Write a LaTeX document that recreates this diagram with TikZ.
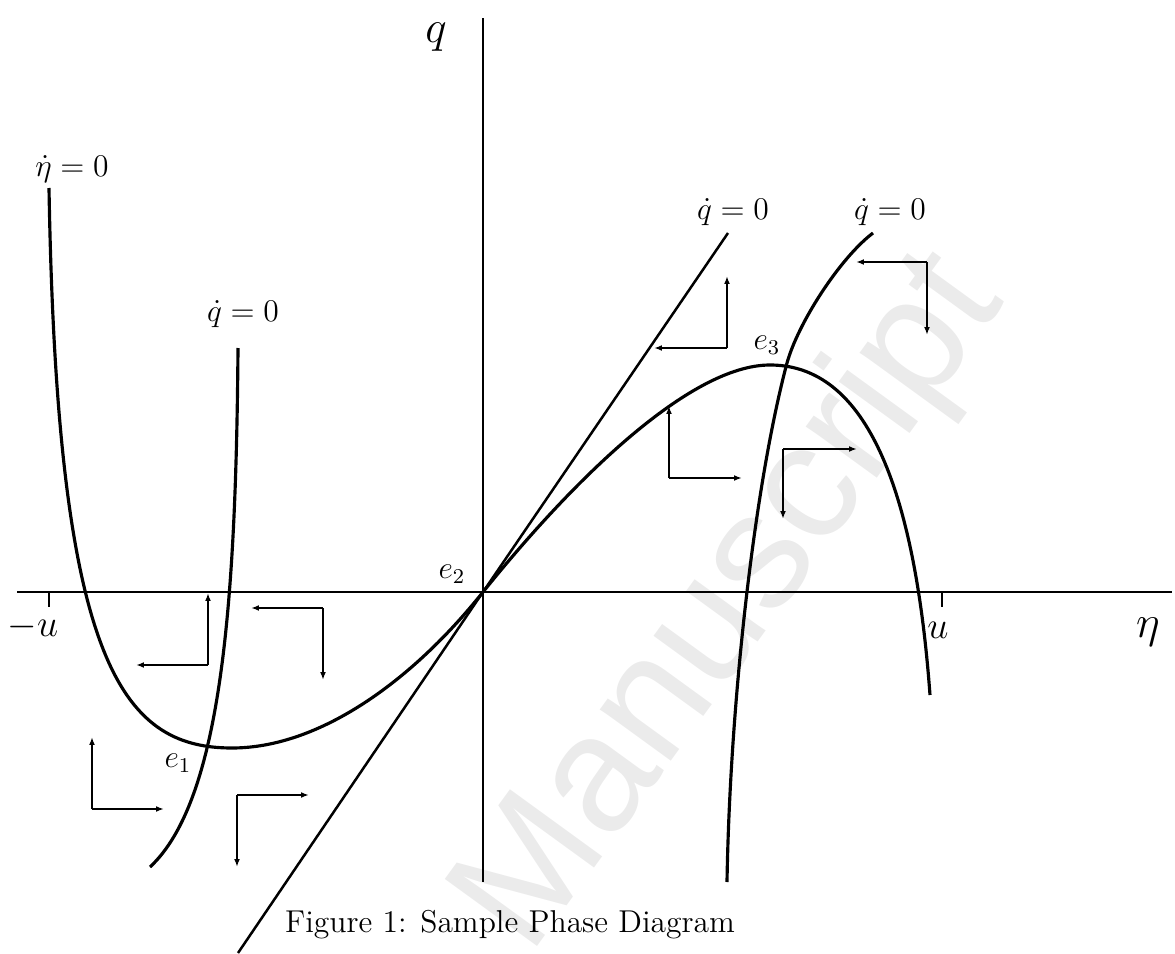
\documentclass[tikz,border=0pt]{standalone}
\usepackage{amsmath,amssymb}
\usepackage{fontspec}
\newfontfamily\wmfont{Liberation Sans}
\usetikzlibrary{arrows.meta}

\begin{document}
\begin{tikzpicture}[x=0.38pt,y=-0.38pt,every node/.style={font=\large},
  axis/.style={line width=1pt},
  nullcline/.style={line width=1.2pt,line join=round},
  flow/.style={line width=0.6pt,-{Latex[length=3pt,width=2.2pt]}}]
\useasboundingbox (0,0) rectangle (1175,954);
% watermark
\node[rotate=54,text=black!8,font=\wmfont\fontsize{63}{63}\selectfont] (wm) at (733,604) {Manuscript};
% axes
\coordinate (e2) at (483,592);
\draw[axis] (17,592) -- (1172,592);
\draw[axis] (483,18) -- (483,882);
\draw[axis] (49,592) -- (49,607);
\draw[axis] (942,592) -- (942,607);
\node[anchor=base,font=\fontsize{19}{22}\selectfont] (qlab) at (436,42) {$q$};
\node[anchor=base,font=\fontsize{19}{22}\selectfont] (etalab) at (1148,637) {$\eta$};
\node[anchor=base,font=\fontsize{13.5}{16}\selectfont] (mu) at (33,636) {$-u$};
\node[anchor=base,font=\fontsize{13.5}{16}\selectfont] (pu) at (938,638) {$u$};
% eta-dot nullcline
\coordinate (etatop) at (49,188);
\coordinate (etamin) at (232,748);
\coordinate (etamax) at (770,365);
\coordinate (etaend) at (930,695);
\draw[nullcline] (etatop) .. controls (57,660) and (120,748) .. (etamin)
  .. controls (320,748) and (413,680) .. (e2)
  .. controls (573,480) and (690,365) .. (etamax)
  .. controls (850,365) and (912,450) .. (etaend);
% q-dot nullclines
\coordinate (qAtop) at (238,348);
\coordinate (qAend) at (150,867);
\draw[nullcline] (qAtop) .. controls (236,600) and (222,800) .. (qAend);
\coordinate (lineA) at (238,953);
\coordinate (lineB) at (728,233);
\draw[line width=0.95pt] (lineA) -- (e2) -- (lineB);
\coordinate (qCtop) at (873,233);
\coordinate (e3) at (787,363);
\coordinate (qCend) at (727,882);
\draw[nullcline] (qCtop) .. controls (840,258) and (798,323) .. (e3)
  .. controls (755,483) and (730,700) .. (qCend);
\node[anchor=base] (etadot) at (72,176) {$\dot{\eta}=0$};
\node[anchor=base] (qdotA) at (243,321) {$\dot{q}=0$};
\node[anchor=base] (qdotB) at (733,219) {$\dot{q}=0$};
\node[anchor=base] (qdotC) at (890,219) {$\dot{q}=0$};
% equilibria
\node (e1lab) at (178,763) {$e_1$};
\node (e2lab) at (452,574) {$e_2$};
\node (e3lab) at (767,345) {$e_3$};
% direction arrows
\coordinate (c1) at (208,665);
\draw[flow] (c1) -- ++(-72,0);
\draw[flow] (c1) -- ++(0,-72);
\coordinate (c2) at (323,608);
\draw[flow] (c2) -- ++(-72,0);
\draw[flow] (c2) -- ++(0,72);
\coordinate (c3) at (92,809);
\draw[flow] (c3) -- ++(72,0);
\draw[flow] (c3) -- ++(0,-72);
\coordinate (c4) at (237,795);
\draw[flow] (c4) -- ++(72,0);
\draw[flow] (c4) -- ++(0,72);
\coordinate (c5) at (727,348);
\draw[flow] (c5) -- ++(-73,0);
\draw[flow] (c5) -- ++(0,-72);
\coordinate (c6) at (927,262);
\draw[flow] (c6) -- ++(-71,0);
\draw[flow] (c6) -- ++(0,73);
\coordinate (c7) at (669,478);
\draw[flow] (c7) -- ++(73,0);
\draw[flow] (c7) -- ++(0,-72);
\coordinate (c8) at (783,449);
\draw[flow] (c8) -- ++(74,0);
\draw[flow] (c8) -- ++(0,70);
% caption
\node[anchor=base] (cap) at (510,932) {Figure 1: Sample Phase Diagram};
\end{tikzpicture}
\end{document}
